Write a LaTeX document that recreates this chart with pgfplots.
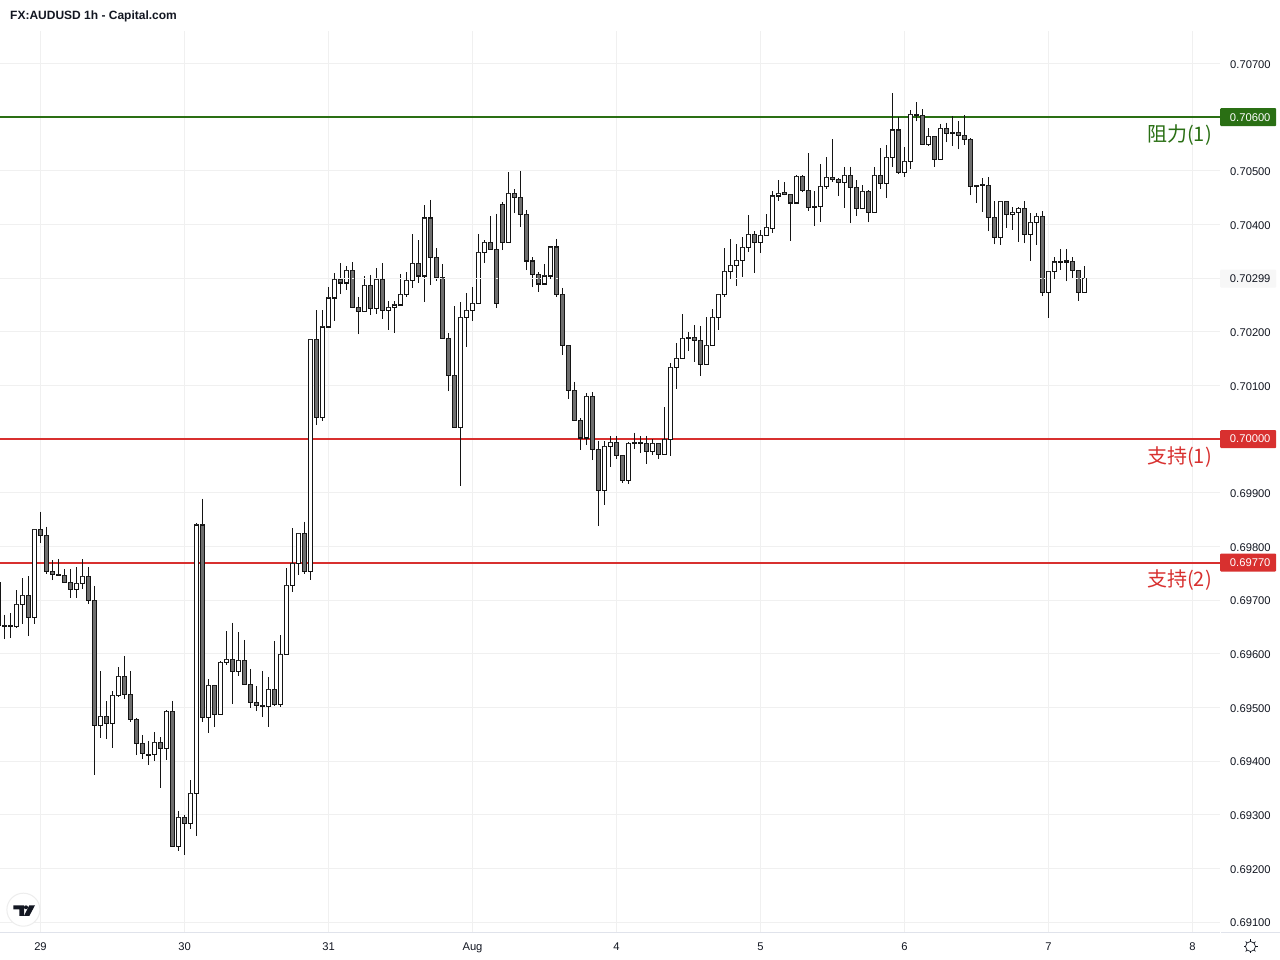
\documentclass[border=0pt]{standalone}
\usepackage{fontspec}
\usepackage{pgfplots}
\usepackage{pgfplotstable}
\pgfplotsset{compat=1.18}
\usepgfplotslibrary{statistics}
\setmainfont{Liberation Sans}
\newfontfamily\cjk{Noto Sans CJK SC}
\definecolor{gridc}{HTML}{F0F0F0}
\definecolor{wick}{HTML}{141414}
\definecolor{bodyc}{HTML}{6E6E6E}
\definecolor{txt}{HTML}{131722}
\definecolor{resist}{HTML}{2A6F14}
\definecolor{supp}{HTML}{D8302F}
\definecolor{axisc}{HTML}{E0E3EB}
\newcommand{\axfont}{\fontsize{11.2}{13}\selectfont}

% hour, low, body bottom, body top, high, up (1 = white)
\pgfplotstableread{
i l b t h u
-7 0.69640 0.69652 0.69732 0.69750 0
-6 0.69627 0.69651 0.69653 0.69673 0
-5 0.69629 0.69651 0.69653 0.69675 0
-4 0.69648 0.69650 0.69691 0.69718 1
-3 0.69655 0.69691 0.69708 0.69742 1
-2 0.69633 0.69667 0.69708 0.69744 0
-1 0.69655 0.69667 0.69831 0.69831 1
0 0.69806 0.69820 0.69831 0.69865 0
1 0.69749 0.69753 0.69820 0.69837 0
2 0.69737 0.69747 0.69753 0.69774 0
3 0.69746 0.69746 0.69748 0.69777 0
4 0.69732 0.69732 0.69745 0.69757 0
5 0.69704 0.69719 0.69732 0.69757 0
6 0.69704 0.69719 0.69731 0.69762 1
7 0.69721 0.69731 0.69744 0.69777 1
8 0.69693 0.69699 0.69744 0.69762 0
9 0.69374 0.69466 0.69699 0.69727 0
10 0.69443 0.69466 0.69483 0.69567 1
11 0.69441 0.69470 0.69483 0.69511 0
12 0.69424 0.69470 0.69522 0.69530 1
13 0.69519 0.69522 0.69557 0.69576 1
14 0.69516 0.69524 0.69557 0.69596 0
15 0.69473 0.69477 0.69524 0.69568 0
16 0.69411 0.69432 0.69477 0.69481 0
17 0.69404 0.69414 0.69432 0.69449 0
18 0.69393 0.69411 0.69413 0.69438 0
19 0.69400 0.69412 0.69434 0.69455 1
20 0.69350 0.69423 0.69434 0.69444 0
21 0.69402 0.69423 0.69492 0.69496 1
22 0.69240 0.69240 0.69492 0.69512 0
23 0.69232 0.69240 0.69294 0.69307 1
24 0.69225 0.69283 0.69294 0.69300 0
25 0.69273 0.69283 0.69339 0.69365 1
26 0.69260 0.69339 0.69840 0.69844 1
27 0.69473 0.69481 0.69840 0.69889 0
28 0.69452 0.69481 0.69540 0.69553 1
29 0.69463 0.69486 0.69540 0.69542 0
30 0.69486 0.69486 0.69583 0.69587 1
31 0.69579 0.69583 0.69589 0.69643 1
32 0.69506 0.69567 0.69589 0.69658 0
33 0.69558 0.69567 0.69587 0.69641 1
34 0.69542 0.69542 0.69587 0.69626 0
35 0.69499 0.69509 0.69542 0.69572 0
36 0.69493 0.69503 0.69509 0.69539 0
37 0.69482 0.69502 0.69504 0.69568 0
38 0.69463 0.69501 0.69533 0.69557 1
39 0.69503 0.69505 0.69533 0.69624 0
40 0.69501 0.69505 0.69598 0.69635 1
41 0.69598 0.69598 0.69727 0.69760 1
42 0.69715 0.69727 0.69768 0.69835 1
43 0.69747 0.69768 0.69824 0.69824 1
44 0.69749 0.69753 0.69824 0.69846 0
45 0.69737 0.69753 0.70185 0.70187 1
46 0.70026 0.70041 0.70185 0.70240 0
47 0.70033 0.70041 0.70209 0.70241 1
48 0.70209 0.70209 0.70263 0.70284 1
49 0.70220 0.70263 0.70298 0.70310 1
50 0.70270 0.70291 0.70297 0.70328 0
51 0.70277 0.70291 0.70315 0.70323 1
52 0.70244 0.70246 0.70315 0.70330 0
53 0.70195 0.70237 0.70246 0.70265 0
54 0.70237 0.70237 0.70287 0.70304 1
55 0.70231 0.70244 0.70287 0.70306 0
56 0.70233 0.70244 0.70297 0.70319 1
57 0.70224 0.70239 0.70297 0.70328 0
58 0.70203 0.70239 0.70246 0.70257 1
59 0.70197 0.70246 0.70250 0.70257 1
60 0.70250 0.70250 0.70270 0.70308 1
61 0.70265 0.70270 0.70295 0.70311 1
62 0.70282 0.70295 0.70328 0.70382 1
63 0.70291 0.70304 0.70328 0.70371 0
64 0.70256 0.70304 0.70412 0.70436 1
65 0.70287 0.70339 0.70412 0.70446 0
66 0.70295 0.70302 0.70339 0.70356 0
67 0.70187 0.70188 0.70302 0.70326 0
68 0.70089 0.70118 0.70188 0.70198 0
69 0.70021 0.70021 0.70118 0.70248 0
70 0.69912 0.70021 0.70226 0.70256 1
71 0.70171 0.70226 0.70239 0.70272 1
72 0.70220 0.70239 0.70252 0.70284 1
73 0.70252 0.70252 0.70347 0.70382 1
74 0.70328 0.70347 0.70367 0.70371 1
75 0.70354 0.70354 0.70367 0.70416 0
76 0.70244 0.70252 0.70354 0.70420 0
77 0.70352 0.70367 0.70438 0.70442 0
78 0.70367 0.70367 0.70457 0.70498 1
79 0.70421 0.70451 0.70457 0.70466 0
80 0.70395 0.70418 0.70451 0.70500 0
81 0.70315 0.70332 0.70418 0.70427 0
82 0.70283 0.70306 0.70332 0.70339 0
83 0.70275 0.70289 0.70306 0.70311 0
84 0.70289 0.70289 0.70304 0.70326 1
85 0.70298 0.70304 0.70358 0.70360 1
86 0.70265 0.70269 0.70358 0.70373 0
87 0.70157 0.70174 0.70269 0.70282 0
88 0.70075 0.70090 0.70174 0.70175 0
89 0.70034 0.70034 0.70090 0.70107 0
90 0.69980 0.70002 0.70034 0.70039 0
91 0.69989 0.70002 0.70080 0.70086 1
92 0.69961 0.69980 0.70080 0.70088 0
93 0.69838 0.69904 0.69980 0.69997 0
94 0.69877 0.69904 0.69986 0.69997 1
95 0.69948 0.69986 0.69993 0.70005 1
96 0.69963 0.69969 0.69993 0.70005 0
97 0.69918 0.69923 0.69969 0.69969 0
98 0.69916 0.69923 0.69991 0.69995 1
99 0.69982 0.69991 0.69993 0.70012 0
100 0.69974 0.69991 0.69993 0.70005 0
101 0.69954 0.69977 0.69991 0.70006 0
102 0.69970 0.69977 0.69991 0.70001 1
103 0.69963 0.69971 0.69991 0.69993 0
104 0.69971 0.69971 0.69999 0.70059 1
105 0.69968 0.69999 0.70133 0.70142 1
106 0.70093 0.70133 0.70150 0.70180 1
107 0.70150 0.70150 0.70187 0.70234 1
108 0.70164 0.70187 0.70189 0.70200 0
109 0.70144 0.70183 0.70189 0.70213 0
110 0.70118 0.70139 0.70183 0.70210 0
111 0.70139 0.70139 0.70174 0.70228 1
112 0.70174 0.70174 0.70226 0.70243 1
113 0.70203 0.70226 0.70269 0.70271 1
114 0.70264 0.70269 0.70312 0.70357 1
115 0.70298 0.70312 0.70323 0.70372 1
116 0.70285 0.70323 0.70333 0.70364 1
117 0.70302 0.70333 0.70357 0.70377 1
118 0.70349 0.70357 0.70381 0.70418 1
119 0.70310 0.70366 0.70381 0.70387 0
120 0.70347 0.70366 0.70379 0.70390 1
121 0.70379 0.70379 0.70394 0.70420 1
122 0.70385 0.70393 0.70453 0.70462 1
123 0.70444 0.70453 0.70458 0.70483 1
124 0.70454 0.70456 0.70460 0.70479 0
125 0.70370 0.70440 0.70456 0.70456 0
126 0.70440 0.70440 0.70490 0.70492 1
127 0.70460 0.70464 0.70490 0.70492 0
128 0.70426 0.70432 0.70464 0.70533 0
129 0.70398 0.70432 0.70434 0.70462 0
130 0.70404 0.70434 0.70471 0.70512 1
131 0.70466 0.70471 0.70488 0.70525 1
132 0.70480 0.70484 0.70488 0.70559 0
133 0.70453 0.70479 0.70484 0.70486 0
134 0.70430 0.70479 0.70492 0.70507 1
135 0.70402 0.70469 0.70492 0.70508 0
136 0.70416 0.70430 0.70469 0.70482 0
137 0.70430 0.70430 0.70462 0.70473 1
138 0.70404 0.70423 0.70462 0.70464 0
139 0.70423 0.70423 0.70492 0.70507 1
140 0.70466 0.70477 0.70492 0.70542 0
141 0.70449 0.70477 0.70525 0.70548 1
142 0.70507 0.70525 0.70576 0.70645 1
143 0.70494 0.70497 0.70576 0.70600 0
144 0.70488 0.70497 0.70518 0.70544 1
145 0.70503 0.70518 0.70605 0.70613 1
146 0.70592 0.70603 0.70605 0.70628 0
147 0.70549 0.70549 0.70603 0.70615 0
148 0.70548 0.70549 0.70564 0.70579 1
149 0.70508 0.70521 0.70564 0.70564 0
150 0.70521 0.70521 0.70579 0.70587 1
151 0.70553 0.70570 0.70579 0.70590 0
152 0.70546 0.70570 0.70572 0.70602 0
153 0.70540 0.70566 0.70572 0.70592 0
154 0.70549 0.70559 0.70566 0.70604 0
155 0.70454 0.70471 0.70559 0.70561 0
156 0.70440 0.70471 0.70473 0.70473 0
157 0.70424 0.70472 0.70474 0.70486 0
158 0.70387 0.70413 0.70473 0.70488 0
159 0.70363 0.70376 0.70413 0.70443 0
160 0.70361 0.70376 0.70443 0.70443 1
161 0.70394 0.70419 0.70443 0.70443 0
162 0.70389 0.70419 0.70423 0.70432 1
163 0.70368 0.70423 0.70430 0.70432 1
164 0.70365 0.70382 0.70430 0.70443 0
165 0.70331 0.70382 0.70404 0.70421 1
166 0.70362 0.70404 0.70415 0.70421 1
167 0.70266 0.70274 0.70415 0.70425 0
168 0.70225 0.70274 0.70313 0.70313 1
169 0.70299 0.70313 0.70330 0.70339 1
170 0.70316 0.70330 0.70331 0.70354 0
171 0.70294 0.70330 0.70332 0.70354 0
172 0.70299 0.70315 0.70331 0.70339 0
173 0.70258 0.70274 0.70315 0.70315 0
174 0.70274 0.70274 0.70299 0.70322 1
}\bars

\begin{document}
\begin{tikzpicture}
\fill[white] (0pt,0pt) rectangle (1280pt,960pt);
\useasboundingbox (0pt,0pt) rectangle (1280pt,960pt);
\pgfplotstablegetrowsof{\bars}
\pgfmathtruncatemacro\lastrow{\pgfplotsretval-1}
\begin{axis}[
    at={(0pt,28pt)}, anchor=south west,
    scale only axis, width=1220pt, height=901pt,
    xmin=-6.75, xmax=196.583,
    ymin=0.690814, ymax=0.707606,
    clip mode=individual,
    axis line style={draw=none},
    major tick length=0pt,
    grid=major,
    grid style={draw=gridc, line width=1pt},
    xtick={0,24,48,72,96,120,144,168,192},
    xticklabels={29,30,31,Aug,4,5,6,7,8},
    ytick={0.691,0.692,0.693,0.694,0.695,0.696,0.697,0.698,0.699,0.700,0.701,0.702,0.703,0.704,0.705,0.706,0.707},
    yticklabels={0.69100,0.69200,0.69300,0.69400,0.69500,0.69600,0.69700,0.69800,0.69900,{},0.70100,0.70200,{},0.70400,0.70500,{},0.70700},
    yticklabel pos=right,
    ticklabel style={font=\axfont, text=txt},
    y tick label style={anchor=west, inner sep=0pt, xshift=10pt, yshift=-0.8pt},
    x tick label style={anchor=center, inner sep=0pt, yshift=-15.5pt, text height=8pt, text depth=2pt},
    boxplot/draw direction=y,
    boxplot/box extend=0.6,
    boxplot/whisker extend=0,
    boxplot/every median/.style={draw=none},
    candleup/.style={draw=wick, fill=white, line width=1.1pt, forget plot},
    candledown/.style={draw=wick, fill=bodyc, line width=1.1pt, forget plot},
]
\addplot[draw=resist, line width=2pt, forget plot] coordinates {(-6.75,0.706) (196.583,0.706)};
\addplot[draw=supp, line width=2pt, forget plot] coordinates {(-6.75,0.700) (196.583,0.700)};
\addplot[draw=supp, line width=2pt, forget plot] coordinates {(-6.75,0.6977) (196.583,0.6977)};

\pgfplotsforeachungrouped \r in {0,...,\lastrow}{
    \pgfplotstablegetelem{\r}{i}\of\bars \let\bi\pgfplotsretval
    \pgfplotstablegetelem{\r}{l}\of\bars \let\bl\pgfplotsretval
    \pgfplotstablegetelem{\r}{b}\of\bars \let\bb\pgfplotsretval
    \pgfplotstablegetelem{\r}{t}\of\bars \let\bt\pgfplotsretval
    \pgfplotstablegetelem{\r}{h}\of\bars \let\bh\pgfplotsretval
    \pgfplotstablegetelem{\r}{u}\of\bars \let\bu\pgfplotsretval
    \edef\next{\noexpand\addplot[\ifnum\bu=1 candleup\else candledown\fi,
        boxplot prepared={draw position=\bi, lower whisker=\bl, lower quartile=\bb,
        median=\bt, upper quartile=\bt, upper whisker=\bh}] coordinates {};}
    \next
}

% last price line, drawn over the candles
\addplot[draw=gridc, line width=1pt, dash pattern=on 2pt off 2pt, forget plot] coordinates {(-6.75,0.70299) (196.583,0.70299)};

\node[anchor=west, fill=resist, text=white, font=\axfont, rounded corners=1pt, inner sep=0pt, minimum width=56pt, minimum height=18pt] at (axis cs:196.583,0.706) {\hspace{4pt}\raisebox{-0.8pt}{0.70600}};
\node[anchor=west, fill=supp, text=white, font=\axfont, rounded corners=1pt, inner sep=0pt, minimum width=56pt, minimum height=18pt] at (axis cs:196.583,0.700) {\hspace{4pt}\raisebox{-0.8pt}{0.70000}};
\node[anchor=west, fill=supp, text=white, font=\axfont, rounded corners=1pt, inner sep=0pt, minimum width=56pt, minimum height=18pt] at (axis cs:196.583,0.6977) {\hspace{4pt}\raisebox{-0.8pt}{0.69770}};
\node[anchor=west, fill=black!3, text=txt, font=\axfont, rounded corners=1pt, inner sep=0pt, minimum width=56pt, minimum height=18pt] at (axis cs:196.583,0.70299) {\hspace{4pt}\raisebox{-0.8pt}{0.70299}};

\node[anchor=east, text=resist, inner sep=0pt, font=\fontsize{20}{22}\selectfont\cjk, xshift=-8pt, yshift=-18pt] at (axis cs:196.583,0.706) {阻力(1)};
\node[anchor=east, text=supp, inner sep=0pt, font=\fontsize{20}{22}\selectfont\cjk, xshift=-8pt, yshift=-18pt] at (axis cs:196.583,0.700) {支持(1)};
\node[anchor=east, text=supp, inner sep=0pt, font=\fontsize{20}{22}\selectfont\cjk, xshift=-8pt, yshift=-18pt] at (axis cs:196.583,0.6977) {支持(2)};
\end{axis}

% page furniture, in pixel coordinates from the top left
\begin{scope}[x=1pt, y=-1pt, shift={(0pt,960pt)}]
\draw[axisc, line width=1pt] (0,932.5) -- (1220,932.5);
\draw[axisc, line width=1pt] (1221,932.5) -- (1280,932.5);
\node[anchor=west, inner sep=0pt, text=txt, font=\fontsize{12}{14}\selectfont\bfseries] at (10,16.5) {FX:AUDUSD 1h - Capital.com};
% logo
\draw[draw=black!7, fill=white, line width=1pt] (23.4,909.7) circle (16.5);
\fill[txt] (13.3,905.3) -- (24,905.3) -- (24,916) -- (19.3,916) -- (19.3,909.3) -- (13.3,909.3) -- cycle;
\fill[txt] (26,907.3) circle (2);
\fill[txt] (29.3,905.3) -- (35,905.3) -- (29.3,916) -- (23.9,916) -- cycle;
% settings icon
\draw[txt, line width=0.7pt] (1250.5,946.5) circle (5);
\foreach \a in {0,45,...,315} {
    \draw[txt, line width=0.7pt] ([shift={(\a:5)}]1250.5,946.5) -- ([shift={(\a:7)}]1250.5,946.5);
}
\end{scope}
\end{tikzpicture}
\end{document}
